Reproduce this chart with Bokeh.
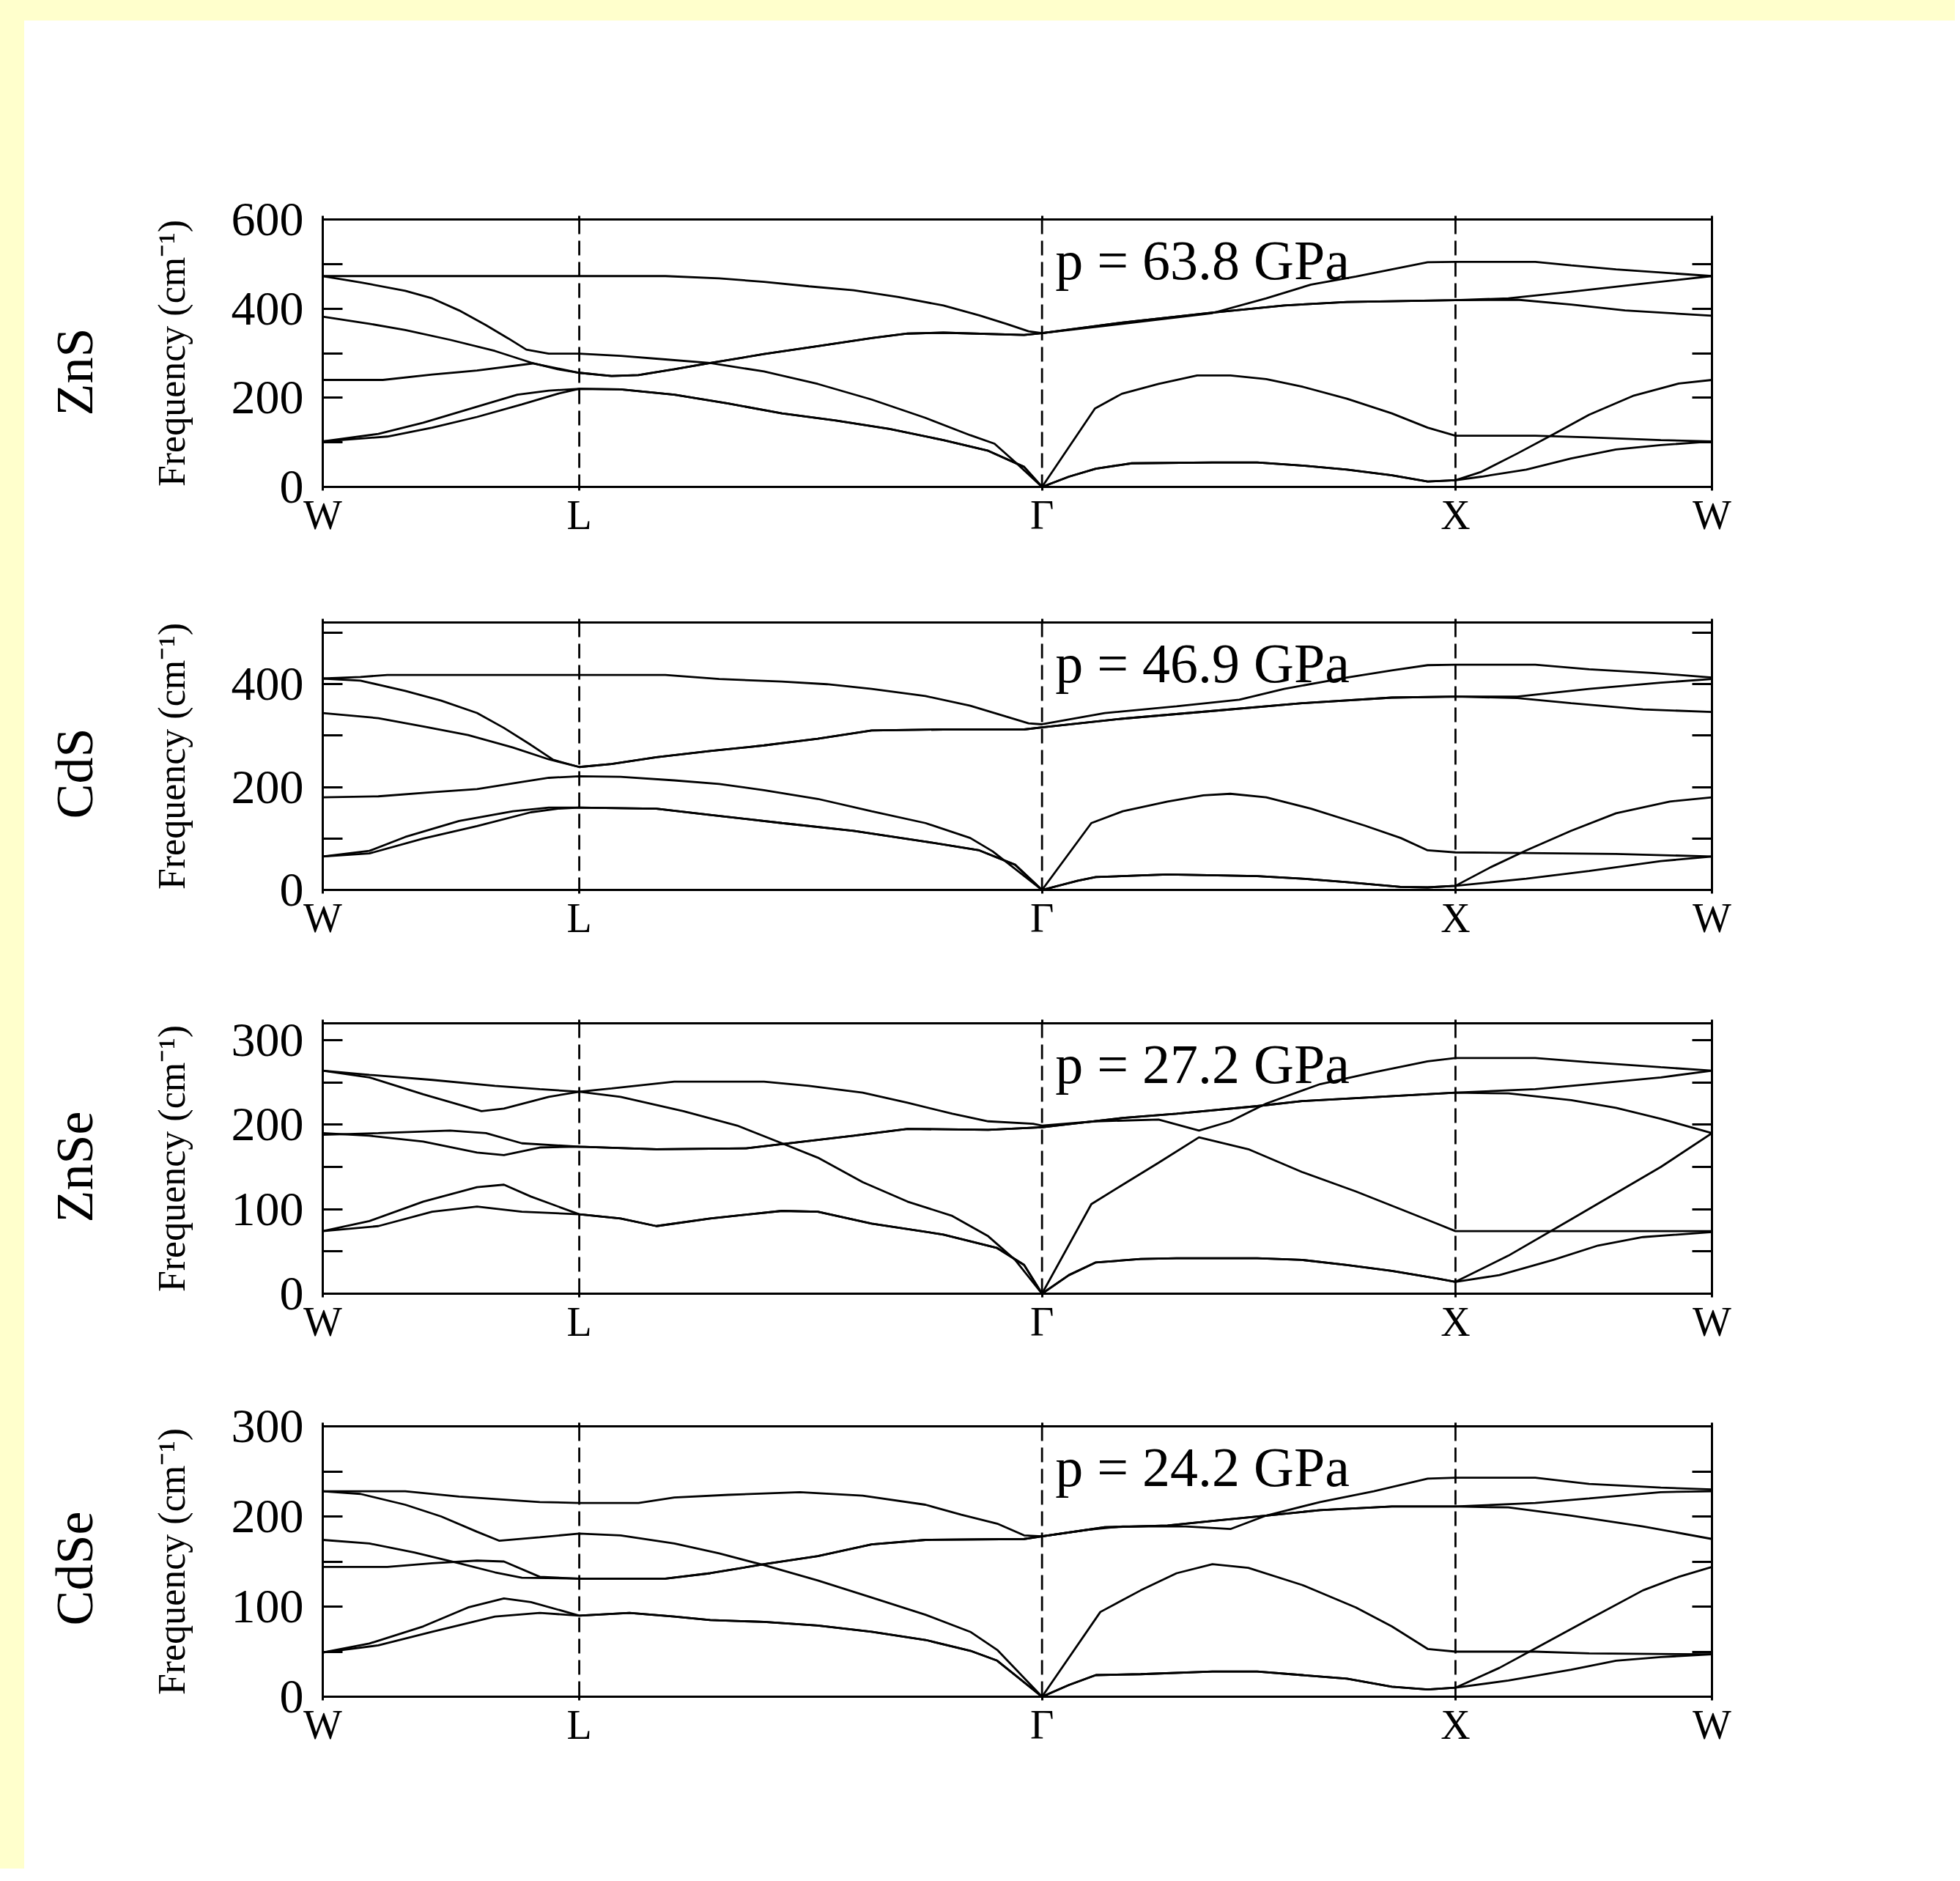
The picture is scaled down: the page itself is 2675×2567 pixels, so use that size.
import math
from bokeh.plotting import figure
from bokeh.models import (FixedTicker, LinearAxis, Span, Label, Range1d, Spacer,
                          CustomJSTickFormatter)
from bokeh.layouts import column, row
from bokeh.embed import file_html
from bokeh.resources import INLINE

# ---------------- data ----------------
# path coordinate (arbitrary units along W-L-Gamma-X-W)
KPOINT_POS = [0, 286, 802, 1263, 1549]
KPOINT_LABELS = ["W", "L", "Γ", "X", "W"]

MATERIALS = ["ZnS", "CdS", "ZnSe", "CdSe"]
PRESSURES = ["p = 63.8 GPa", "p = 46.9 GPa", "p = 27.2 GPa", "p = 24.2 GPa"]
Y_MAX = [600, 520, 320, 300]
Y_MAJOR = [[0, 200, 400, 600], [0, 200, 400], [0, 100, 200, 300], [0, 100, 200, 300]]
Y_MINOR = [[100, 300, 500], [100, 300, 500], [50, 150, 250], [50, 150, 250]]
Y_LABEL = "Frequency (cm⁻¹)"

# ZnS branches: (k, frequency cm^-1)
zns_b1 = [(0,473),(286,473),(382,473),(442,468),(492,460),(542,450),(592,441),(642,426),(692,407),(732,385),(762,366),(787,349),(802,345),(892,366),(992,390),(1052,423),(1102,454),(1152,472),(1232,504),(1263,505),(1352,505),(1392,497),(1442,488),(1492,481),(1549,473)]
zns_b2 = [(0,473),(42,459),(92,440),(122,423),(152,396),(182,363),(207,333),(227,308),(252,299),(286,299),(332,294),(382,286),(432,278),(492,259),(552,231),(612,196),(672,155),(722,116),(749,97),(772,56),(802,0),(861,176),(891,209),(932,231),(975,250),(1012,250),(1052,242),(1092,225),(1142,198),(1192,165),(1232,133),(1263,115),(1352,115),(1412,111),(1492,105),(1549,102)]
zns_b3 = [(0,382),(52,366),(92,352),(142,330),(192,305),(232,279),(262,264),(286,256),(322,249),(352,251),(392,264),(432,278),(492,298),(552,316),(612,334),(652,344),(692,346),(782,341),(802,345),(892,369),(992,391),(1072,407),(1142,415),(1263,419),(1332,420),(1392,409),(1452,396),(1549,384)]
zns_b4 = [(0,240),(67,240),(122,252),(172,261),(234,277),(286,256),(322,249),(352,251),(392,264),(432,278),(492,298),(552,316),(612,334),(652,344),(692,346),(782,341),(802,345),(892,369),(992,391),(1072,407),(1142,415),(1263,419),(1322,423),(1392,438),(1472,456),(1549,473)]
zns_b5 = [(0,102),(62,119),(112,144),(162,174),(217,207),(252,216),(286,220),(332,219),(392,207),(452,187),(512,165),(572,149),(632,130),(692,105),(742,81),(782,45),(802,0),(832,23),(862,41),(902,53),(992,55),(1042,55),(1092,48),(1142,39),(1192,26),(1232,12),(1263,15),(1292,23),(1342,39),(1392,64),(1442,84),(1492,94),(1549,102)]
zns_b6 = [(0,102),(72,113),(122,133),(172,157),(222,185),(262,209),(286,220),(332,219),(392,207),(452,187),(512,165),(572,149),(632,130),(692,105),(742,81),(782,45),(802,0),(832,23),(862,41),(902,53),(992,55),(1042,55),(1092,48),(1142,39),(1192,26),(1232,12),(1263,15),(1292,34),(1332,75),(1372,118),(1412,162),(1462,205),(1512,232),(1549,240)]

# CdS branches
cds_b1 = [(0,411),(42,414),(72,418),(382,418),(442,410),(512,405),(562,400),(612,391),(672,377),(722,358),(762,337),(787,324),(802,322),(872,344),(952,357),(1022,370),(1072,391),(1142,413),(1192,427),(1232,437),(1263,438),(1352,438),(1412,429),(1482,422),(1549,413)]
cds_b2 = [(0,411),(42,407),(92,387),(132,368),(172,344),(202,315),(232,282),(257,253),(286,239),(322,245),(372,258),(432,270),(492,281),(552,294),(612,310),(692,312),(782,312),(802,316),(892,333),(992,348),(1092,363),(1192,374),(1263,376),(1332,373),(1392,363),(1472,351),(1549,346)]
cds_b3 = [(0,344),(62,334),(112,318),(162,301),(212,277),(252,254),(286,239),(322,245),(372,258),(432,270),(492,281),(552,294),(612,310),(692,312),(782,312),(802,316),(892,333),(992,348),(1092,363),(1192,374),(1263,376),(1332,376),(1412,391),(1492,403),(1549,410)]
cds_b4 = [(0,180),(62,182),(122,190),(172,196),(222,210),(252,218),(286,221),(332,220),(392,213),(442,206),(492,194),(552,177),(612,153),(672,130),(722,101),(747,75),(802,0),(857,130),(892,153),(942,172),(982,184),(1012,187),(1052,180),(1102,158),(1162,125),(1202,101),(1232,77),(1263,73),(1442,70),(1549,65)]
cds_b5 = [(0,65),(52,76),(92,103),(152,134),(212,153),(252,160),(286,160),(372,158),(432,146),(512,130),(592,115),(672,94),(732,77),(772,49),(802,0),(842,18),(862,25),(942,30),(1042,27),(1092,22),(1142,15),(1202,6),(1232,5),(1263,8),(1342,22),(1412,37),(1492,56),(1549,65)]
cds_b6 = [(0,65),(52,71),(112,100),(172,124),(232,151),(262,158),(286,160),(372,158),(432,146),(512,130),(592,115),(672,94),(732,77),(772,49),(802,0),(842,18),(862,25),(942,30),(1042,27),(1092,22),(1142,15),(1202,6),(1232,5),(1263,8),(1302,44),(1342,77),(1392,115),(1442,149),(1502,172),(1549,180)]

# ZnSe branches
znse_b1 = [(0,264),(52,259),(122,253),(192,246),(242,242),(286,239),(322,243),(392,251),(492,251),(542,246),(602,238),(652,226),(702,213),(742,204),(792,201),(802,199),(862,204),(932,206),(977,193),(1012,204),(1052,225),(1112,248),(1172,262),(1232,275),(1263,279),(1352,279),(1412,274),(1492,268),(1549,264)]
znse_b2 = [(0,264),(52,256),(112,236),(177,216),(202,219),(252,233),(286,239),(332,233),(402,216),(462,199),(512,178),(552,161),(602,132),(652,109),(702,92),(742,68),(772,40),(802,0),(857,106),(892,129),(932,155),(977,185),(1032,171),(1092,144),(1152,121),(1202,100),(1242,83),(1263,74),(1549,74)]
znse_b3 = [(0,190),(52,187),(112,180),(172,167),(202,164),(242,173),(286,174),(372,171),(472,172),(512,177),(592,187),(652,195),(742,194),(802,197),(892,208),(952,213),(1042,222),(1092,228),(1263,238),(1322,237),(1392,229),(1442,220),(1492,207),(1549,190)]
znse_b4 = [(0,188),(62,190),(142,193),(182,190),(222,178),(286,174),(372,171),(472,172),(512,177),(592,187),(652,195),(742,194),(802,197),(892,208),(952,213),(1042,222),(1092,228),(1263,238),(1352,242),(1412,248),(1492,256),(1549,264)]
znse_b5 = [(0,74),(52,86),(112,109),(172,126),(202,129),(232,115),(286,94),(332,89),(372,80),(432,89),(512,98),(552,97),(612,83),(692,70),(752,54),(782,34),(802,0),(832,22),(862,37),(912,41),(952,42),(1042,42),(1092,40),(1142,34),(1192,27),(1242,18),(1263,14),(1312,22),(1372,40),(1422,57),(1472,67),(1549,73)]
znse_b6 = [(0,74),(62,80),(122,97),(172,103),(222,97),(286,94),(332,89),(372,80),(432,89),(512,98),(552,97),(612,83),(692,70),(752,54),(782,34),(802,0),(832,22),(862,37),(912,41),(952,42),(1042,42),(1092,40),(1142,34),(1192,27),(1242,18),(1263,14),(1322,45),(1392,88),(1442,119),(1492,150),(1549,190)]

# CdSe branches
cdse_b1 = [(0,228),(92,228),(152,222),(242,216),(286,215),(352,215),(392,221),(452,224),(532,227),(602,223),(672,213),(712,202),(752,192),(782,179),(802,178),(852,185),(892,189),(962,189),(1012,186),(1052,201),(1112,216),(1172,228),(1232,242),(1263,243),(1352,243),(1412,236),(1492,232),(1549,230)]
cdse_b2 = [(0,228),(42,225),(92,213),(132,200),(172,183),(197,173),(242,177),(286,181),(332,179),(392,170),(442,159),(492,146),(552,129),(612,110),(672,91),(722,72),(752,52),(802,0),(867,94),(912,118),(952,137),(992,147),(1032,143),(1092,124),(1152,99),(1192,78),(1232,53),(1263,50),(1352,50),(1412,48),(1549,47)]
cdse_b3 = [(0,174),(52,170),(102,160),(152,148),(192,138),(222,132),(286,131),(382,131),(432,137),(492,147),(552,156),(612,169),(672,174),(782,175),(802,178),(872,188),(942,190),(992,195),(1052,201),(1112,207),(1192,211),(1263,211),(1322,210),(1392,201),(1472,189),(1549,175)]
cdse_b4 = [(0,144),(72,144),(122,148),(172,151),(202,150),(242,133),(286,131),(382,131),(432,137),(492,147),(552,156),(612,169),(672,174),(782,175),(802,178),(872,188),(942,190),(992,195),(1052,201),(1112,207),(1192,211),(1263,211),(1352,215),(1412,220),(1492,227),(1549,228)]
cdse_b5 = [(0,49),(52,59),(112,78),(162,99),(202,109),(232,105),(286,90),(342,93),(392,89),(432,85),(492,83),(552,79),(612,72),(672,63),(722,51),(752,40),(802,0),(832,13),(862,24),(912,25),(992,28),(1042,28),(1092,24),(1142,20),(1192,11),(1232,8),(1263,10),(1322,18),(1392,30),(1442,40),(1492,44),(1549,47)]
cdse_b6 = [(0,49),(62,57),(122,72),(192,89),(242,93),(286,90),(342,93),(392,89),(432,85),(492,83),(552,79),(612,72),(672,63),(722,51),(752,40),(802,0),(832,13),(862,24),(912,25),(992,28),(1042,28),(1092,24),(1142,20),(1192,11),(1232,8),(1263,10),(1312,32),(1362,59),(1412,86),(1472,118),(1512,133),(1549,144)]

PANEL_BANDS = [
    [zns_b1, zns_b2, zns_b3, zns_b4, zns_b5, zns_b6],
    [cds_b1, cds_b2, cds_b3, cds_b4, cds_b5, cds_b6],
    [znse_b1, znse_b2, znse_b3, znse_b4, znse_b5, znse_b6],
    [cdse_b1, cdse_b2, cdse_b3, cdse_b4, cdse_b5, cdse_b6],
]

# ---------------- styling / layout ----------------
FONT = "Liberation Serif"
YELLOW = "#FFFFCC"
FRAME_W = 1896
FRAME_H = [365, 365, 369, 369]
BORDER_TOP = [271, 92, 91, 91]
BORDER_BOTTOM = [93, 91, 90, 235]
LABEL_COL_W = 257      # strip holding the rotated labels
BORDER_LEFT = 150
BORDER_RIGHT = 332
YELLOW_TOP = 28
YELLOW_LEFT = 33


def make_label_strip(idx):
    fh = FRAME_H[idx]
    q = figure(frame_width=LABEL_COL_W, frame_height=fh,
               x_range=Range1d(0, LABEL_COL_W), y_range=Range1d(0, fh),
               x_axis_type=None, y_axis_type=None,
               output_backend="svg", toolbar_location=None,
               min_border_left=0, min_border_right=0,
               min_border_top=BORDER_TOP[idx], min_border_bottom=BORDER_BOTTOM[idx],
               background_fill_color="white", border_fill_color="white")
    q.outline_line_color = None
    q.add_layout(Label(x=201, y=fh / 2, text=Y_LABEL, angle=math.pi / 2,
                       text_font=FONT, text_font_size="52px", text_color="black",
                       text_align="center", text_baseline="alphabetic"))
    q.add_layout(Label(x=68, y=97, text=MATERIALS[idx], angle=math.pi / 2,
                       text_font=FONT, text_font_size="72px", text_color="black",
                       text_align="left", text_baseline="alphabetic"))
    return q


def make_panel(idx):
    ymax = Y_MAX[idx]
    p = figure(frame_width=FRAME_W, frame_height=FRAME_H[idx],
               x_range=Range1d(KPOINT_POS[0], KPOINT_POS[-1]),
               y_range=Range1d(0, ymax),
               x_axis_type=None, y_axis_type=None,
               output_backend="svg", toolbar_location=None,
               min_border_left=BORDER_LEFT, min_border_right=BORDER_RIGHT,
               min_border_top=BORDER_TOP[idx], min_border_bottom=BORDER_BOTTOM[idx],
               background_fill_color="white", border_fill_color="white")
    p.outline_line_color = "black"
    p.outline_line_width = 3

    blank = CustomJSTickFormatter(code="return '';")

    left = LinearAxis(ticker=FixedTicker(ticks=Y_MAJOR[idx], minor_ticks=Y_MINOR[idx]),
                      major_tick_in=27, major_tick_out=0, minor_tick_in=27, minor_tick_out=0,
                      major_tick_line_width=3, minor_tick_line_width=3, axis_line_width=3,
                      major_label_standoff=26, major_label_text_font=FONT,
                      major_label_text_font_size="66px", major_label_text_color="black")
    p.add_layout(left, "left")

    right = LinearAxis(ticker=FixedTicker(ticks=Y_MAJOR[idx], minor_ticks=Y_MINOR[idx]),
                       major_tick_in=27, major_tick_out=0, minor_tick_in=27, minor_tick_out=0,
                       major_tick_line_width=3, minor_tick_line_width=3, axis_line_width=3,
                       formatter=blank, major_label_standoff=0)
    p.add_layout(right, "right")

    kfmt = CustomJSTickFormatter(args=dict(pos=KPOINT_POS, labs=KPOINT_LABELS),
                                 code="const i = pos.indexOf(tick); return i >= 0 ? labs[i] : '';")
    bottom = LinearAxis(ticker=FixedTicker(ticks=KPOINT_POS), formatter=kfmt,
                        major_tick_in=0, major_tick_out=5, minor_tick_line_color=None,
                        major_tick_line_width=3, axis_line_width=3,
                        major_label_standoff=2, major_label_text_font=FONT,
                        major_label_text_font_size="56px", major_label_text_color="black")
    p.add_layout(bottom, "below")

    top = LinearAxis(ticker=FixedTicker(ticks=KPOINT_POS), formatter=blank,
                     major_tick_in=0, major_tick_out=5, minor_tick_line_color=None,
                     major_tick_line_width=3, axis_line_width=3, major_label_standoff=0)
    p.add_layout(top, "above")

    for k in KPOINT_POS[1:-1]:
        p.add_layout(Span(location=k, dimension="height", line_color="black",
                          line_width=2.8, line_dash="20 9"))

    for band in PANEL_BANDS[idx]:
        xs = [pt[0] for pt in band]
        ys = [pt[1] for pt in band]
        p.line(xs, ys, line_color="black", line_width=2.8)

    p.add_layout(Label(x=KPOINT_POS[2], y=ymax, x_offset=18, y_offset=-55,
                       text=PRESSURES[idx], text_font=FONT, text_font_size="76px",
                       text_color="black", text_align="left", text_baseline="alphabetic"))
    return p


rows = [row(make_label_strip(i), make_panel(i)) for i in range(4)]
fig_heights = [BORDER_TOP[i] + FRAME_H[i] + BORDER_BOTTOM[i] for i in range(4)]
fig_width = LABEL_COL_W + BORDER_LEFT + FRAME_W + BORDER_RIGHT

top_strip = Spacer(width=YELLOW_LEFT + fig_width, height=YELLOW_TOP,
                   styles={"background-color": YELLOW})
left_strip = Spacer(width=YELLOW_LEFT, height=sum(fig_heights),
                    styles={"background-color": YELLOW})
layout = column(top_strip, row(left_strip, column(*rows)))

open("out.html", "w").write(file_html(layout, INLINE, title="Phonon dispersion"))
